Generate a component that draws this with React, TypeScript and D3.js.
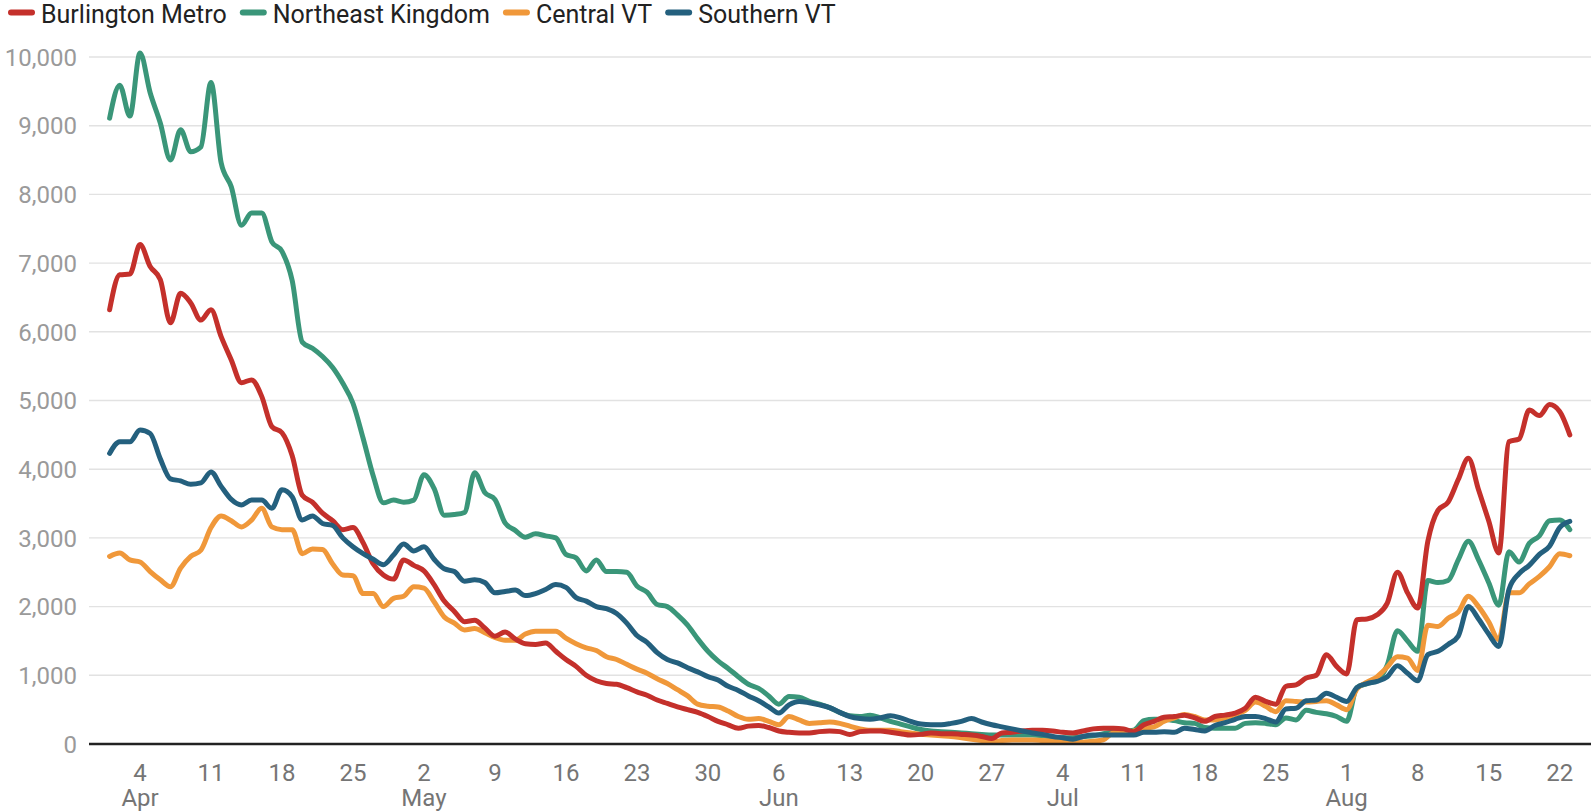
import React, { useEffect, useRef } from "react";
import * as d3 from "d3";

// ---------- data ----------
const startDate = new Date(2021, 3, 1); // Apr 1, one value per day
const seriesNames = ["Burlington Metro", "Northeast Kingdom", "Central VT", "Southern VT"];
const seriesColors = ["#c4302b", "#3a9679", "#f0983a", "#24607e"];

const burlingtonMetro = [
  6320, 6830, 6840, 7270, 6950, 6760, 6130, 6560, 6420, 6170,
  6320, 5930, 5590, 5260, 5300, 5060, 4620, 4530, 4200, 3620,
  3520, 3360, 3250, 3120, 3150, 2930, 2620, 2460, 2400, 2680,
  2600, 2520, 2320, 2080, 1930, 1780, 1800, 1690, 1570, 1630,
  1530, 1460, 1450, 1470, 1350, 1230, 1130, 1000, 920, 880,
  870, 820, 760, 710, 640, 590, 540, 500, 460, 400,
  330, 280, 230, 260, 270, 240, 190, 170, 160, 160,
  180, 190, 180, 140, 180, 190, 190, 170, 150, 130,
  140, 160, 150, 150, 140, 130, 110, 80, 160, 170,
  190, 200, 200, 190, 170, 160, 190, 220, 230, 230,
  220, 180, 280, 330, 390, 400, 420, 380, 330, 400,
  420, 450, 520, 680, 620, 580, 840, 860, 960, 1000,
  1300, 1130, 1020, 1810, 1820, 1880, 2050, 2500, 2200, 1980,
  2950, 3400, 3520, 3850, 4160, 3700, 3250, 2780, 4400, 4440,
  4860, 4780, 4940, 4840, 4500,
];

const northeastKingdom = [
  9110, 9590, 9140, 10060, 9480, 9040, 8500, 8940, 8620, 8690,
  9630, 8460, 8110, 7550, 7730, 7730, 7310, 7170, 6750, 5850,
  5760, 5640, 5480, 5250, 4960, 4450, 3900, 3510, 3550, 3520,
  3550, 3920, 3720, 3330, 3340, 3370, 3950, 3660, 3560, 3220,
  3110, 3010, 3060, 3030, 3000, 2760, 2710, 2520, 2680, 2510,
  2510, 2500, 2300, 2210, 2030, 2000, 1880, 1730, 1530, 1350,
  1210, 1100, 980, 870, 810, 700, 580, 690, 680, 620,
  580, 530, 460, 410, 400, 420, 380, 330, 290, 250,
  210, 190, 180, 170, 160, 150, 140, 130, 130, 130,
  130, 130, 120, 100, 90, 90, 110, 120, 150, 170,
  180, 200, 340, 360, 360, 340, 310, 300, 240, 230,
  230, 230, 300, 310, 300, 280, 380, 350, 490, 460,
  440, 400, 330, 820, 880, 930, 1150, 1650, 1500, 1350,
  2380, 2350, 2380, 2680, 2950, 2680, 2350, 2020, 2800, 2650,
  2920, 3030, 3250, 3260, 3120,
];

const centralVT = [
  2730, 2780, 2680, 2650, 2510, 2390, 2290, 2560, 2730, 2820,
  3150, 3320, 3250, 3160, 3260, 3430, 3160, 3120, 3120, 2770,
  2840, 2830, 2620, 2460, 2450, 2190, 2190, 2000, 2120, 2150,
  2290, 2270, 2070, 1850, 1760, 1660, 1680, 1620, 1550, 1510,
  1510, 1600, 1640, 1640, 1640, 1540, 1460, 1400, 1360, 1270,
  1230, 1160, 1090, 1030, 950, 880, 790, 700, 580, 550,
  540, 480, 400, 360, 370, 330, 280, 400, 350, 300,
  310, 320, 300, 260, 220, 200, 200, 200, 180, 160,
  140, 130, 120, 110, 90, 70, 50, 30, 50, 60,
  60, 60, 50, 40, 30, 30, 30, 40, 60, 160,
  160, 190, 230, 250, 330, 380, 430, 400, 350, 350,
  380, 430, 490, 610, 550, 470, 630, 620, 610, 620,
  630, 570, 500, 800, 900, 980, 1120, 1270, 1250, 1070,
  1730, 1710, 1830, 1920, 2150, 2000, 1780, 1520, 2200, 2200,
  2330, 2440, 2580, 2770, 2740,
];

const southernVT = [
  4230, 4400, 4400, 4570, 4520, 4150, 3860, 3830, 3780, 3800,
  3960, 3750, 3560, 3480, 3550, 3550, 3430, 3700, 3600, 3260,
  3320, 3210, 3180, 3000, 2870, 2770, 2690, 2610, 2750, 2910,
  2810, 2870, 2690, 2550, 2510, 2370, 2390, 2350, 2200, 2220,
  2240, 2160, 2190, 2250, 2320, 2280, 2130, 2080, 2000, 1970,
  1900, 1760, 1580, 1480, 1330, 1230, 1180, 1110, 1050, 980,
  930, 840, 780, 700, 630, 540, 450, 570, 620, 600,
  570, 530, 460, 400, 370, 360, 380, 410, 380, 330,
  290, 280, 280, 300, 330, 370, 320, 280, 250, 220,
  190, 160, 140, 110, 90, 70, 110, 130, 130, 130,
  130, 130, 170, 170, 180, 170, 230, 210, 190, 270,
  310, 360, 400, 400, 370, 320, 510, 520, 630, 640,
  740, 680, 620, 820, 880, 910, 980, 1140, 1030, 920,
  1300, 1350, 1450, 1570, 2000, 1820, 1600, 1420, 2250, 2480,
  2600, 2760, 2880, 3150, 3240,
];

const yTicks = [0, 1000, 2000, 3000, 4000, 5000, 6000, 7000, 8000, 9000, 10000];

const seriesValues = [burlingtonMetro, northeastKingdom, centralVT, southernVT];
// drawing order (last on top)
const drawOrder = [1, 2, 0, 3];

const FONT = "Roboto, 'Noto Sans', sans-serif";

export default function App() {
  const ref = useRef<SVGSVGElement>(null);

  useEffect(() => {
    document.body.style.margin = "0";
    const W = 1591;
    const svg = d3.select(ref.current);
    svg.selectAll("*").remove();

    const endDate = d3.timeDay.offset(startDate, burlingtonMetro.length - 1);
    const x = d3.scaleTime().domain([startDate, endDate]).range([109.6, 1569.8]);
    const y = d3.scaleLinear().domain([0, 10000]).range([744, 57]);
    const gridLeft = 89;

    const g = svg.append("g");
    g.selectAll("line.grid")
      .data(yTicks.filter((t) => t !== 0))
      .join("line")
      .attr("x1", gridLeft)
      .attr("x2", W)
      .attr("y1", (d) => y(d))
      .attr("y2", (d) => y(d))
      .attr("stroke", "#e2e2e2")
      .attr("stroke-width", 1.4);

    g.selectAll("text.ylab")
      .data(yTicks)
      .join("text")
      .attr("x", 77)
      .attr("y", (d) => y(d) + 8.7)
      .attr("text-anchor", "end")
      .attr("font-family", FONT)
      .attr("font-size", 24)
      .attr("fill", "#9a9a9a")
      .text((d) => d3.format(",")(d));

    const ticks = d3.timeSunday.range(startDate, d3.timeDay.offset(endDate, 1));
    g.selectAll("text.xlab")
      .data(ticks)
      .join("text")
      .attr("x", (d) => x(d))
      .attr("y", 780.5)
      .attr("text-anchor", "middle")
      .attr("font-family", FONT)
      .attr("font-size", 24)
      .attr("fill", "#757575")
      .text((d) => d3.timeFormat("%-d")(d));

    const monthTicks = ticks.filter((d) => d.getDate() <= 7);
    g.selectAll("text.mlab")
      .data(monthTicks)
      .join("text")
      .attr("x", (d) => x(d))
      .attr("y", 805.5)
      .attr("text-anchor", "middle")
      .attr("font-family", FONT)
      .attr("font-size", 24)
      .attr("fill", "#757575")
      .text((d) => d3.timeFormat("%b")(d));

    const line = d3
      .line<number>()
      .x((_, i) => x(d3.timeDay.offset(startDate, i)))
      .y((d) => y(d))
      .curve(d3.curveMonotoneX);

    drawOrder.forEach((si) => {
      svg
        .append("path")
        .attr("d", line(seriesValues[si]) as string)
        .attr("fill", "none")
        .attr("stroke", seriesColors[si])
        .attr("stroke-width", 5)
        .attr("stroke-linejoin", "round")
        .attr("stroke-linecap", "round");
    });

    svg
      .append("line")
      .attr("x1", gridLeft)
      .attr("x2", W)
      .attr("y1", y(0))
      .attr("y2", y(0))
      .attr("stroke", "#222")
      .attr("stroke-width", 2.4);

    const legend = svg.append("g");
    let lx = 8;
    seriesNames.forEach((name, i) => {
      legend
        .append("line")
        .attr("x1", lx + 3)
        .attr("x2", lx + 24)
        .attr("y1", 12.5)
        .attr("y2", 12.5)
        .attr("stroke", seriesColors[i])
        .attr("stroke-width", 6)
        .attr("stroke-linecap", "round");
      const t = legend
        .append("text")
        .attr("x", lx + 33)
        .attr("y", 22.5)
        .attr("font-family", FONT)
        .attr("font-size", 25)
        .attr("fill", "#222")
        .text(name);
      const w = (t.node() as SVGTextElement).getComputedTextLength();
      lx = lx + 33 + w + 13;
    });
  }, []);

  return <svg ref={ref} width={1591} height={811} style={{ display: "block", background: "#fff" }} />;
}
